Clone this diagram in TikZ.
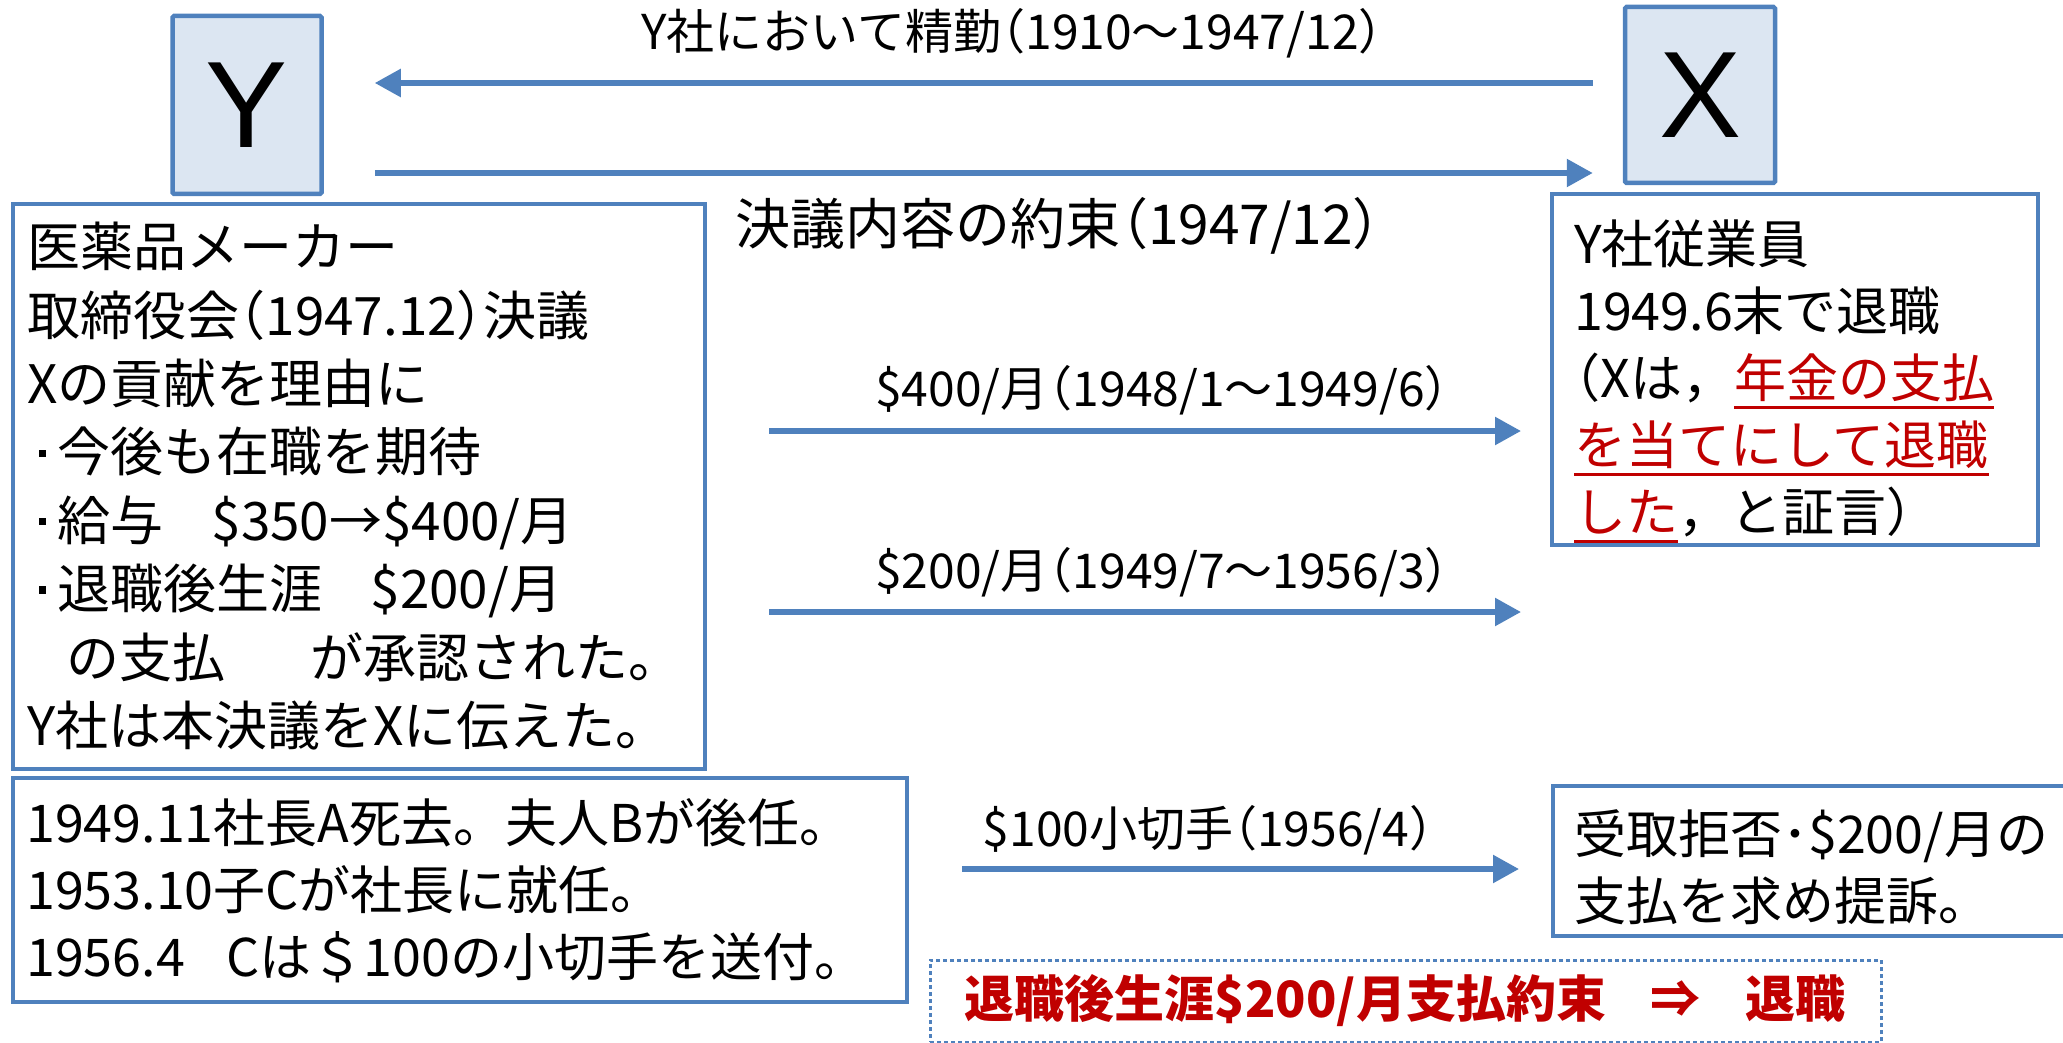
\documentclass[tikz,border=0pt]{standalone}
\usepackage{fontspec}
\setmainfont{Noto Sans CJK JP}
\newfontfamily\haltfont[RawFeature=+halt]{Noto Sans CJK JP}
\newfontfamily\letterfont{Liberation Sans}
\usetikzlibrary{arrows.meta}
\definecolor{bblue}{HTML}{4F81BD}
\definecolor{lblue}{HTML}{DCE6F2}
\definecolor{dred}{HTML}{C00000}
\newlength{\ulwd}
\newcommand{\sqbul}{\makebox[0.58em][c]{\raisebox{0.28em}{\rule{0.14em}{0.14em}}}}
\newcommand{\redul}[1]{\settowidth{\ulwd}{#1}\textcolor{dred}{\rlap{\rule[-11pt]{\ulwd}{3pt}}#1}}
\newcommand{\hp}[1]{{\haltfont #1}}
\tikzset{
  ent/.style={draw=bblue, fill=lblue, line width=4.5pt, rounded corners=1.5pt, inner sep=0pt,
    font=\letterfont\fontsize{123}{123}\selectfont},
  tbox/.style={draw=bblue, line width=4pt, inner sep=0pt, anchor=north west},
  txt/.style={inner sep=0pt, align=left, anchor=north west, font=\fontsize{52}{67}\selectfont},
  arr/.style={draw=bblue, line width=5.5pt, -{Triangle[length=26pt,width=27pt]}},
  lbl/.style={inner sep=0pt, font=\haltfont\fontsize{48}{48}\selectfont},
}
\begin{document}
\begin{tikzpicture}[x=1pt,y=-1pt]
\useasboundingbox (0,0) rectangle (2063,1043);
% entity boxes
\node[ent, minimum width=149pt, minimum height=178pt] (Y) at (247,105) {Y};
\node[ent, minimum width=150pt, minimum height=176pt] (X) at (1700,95) {X};
% text boxes
\node[tbox, minimum width=692pt, minimum height=565pt] (L) at (11,202) {};
\node[tbox, minimum width=486pt, minimum height=351pt] (R) at (1550,192) {};
\node[tbox, minimum width=894pt, minimum height=224pt] (BL) at (11,776) {};
\node[tbox, minimum width=524pt, minimum height=150pt] (BR) at (1551,784) {};
% texts
\node[txt, font=\fontsize{53}{68.4}\selectfont] (Lt) at (27,222) {医薬品メーカー\\
取締役会\hp{（}1947.12\hp{）}決議\\
Xの貢献を理由に\\
\sqbul 今後も在職を期待\\
\sqbul 給与\hspace{0.9em}\$350→\$400/月\\
\sqbul 退職後生涯\hspace{0.9em}\$200/月\\
\hspace*{0.75em}の支払\hspace{1.6em}が承認された。\\
Y社は本決議をXに伝えた。};
\node[txt] (Rt) at (1574,220) {Y社従業員\\
1949.6末で退職\\
\hp{（}Xは，\redul{年金の支払}\\
\redul{を当てにして退職}\\
\redul{した}，と証言）};
\node[txt] (BLt) at (26,798) {1949.11社長A死去。夫人Bが後任。\\
1953.10子Cが社長に就任。\\
1956.4\hspace{0.8em}Cは＄100の小切手を送付。};
\node[txt] (BRt) at (1574,809) {受取拒否･\$200/月の\\
支払を求め提訴。};
% arrows
\draw[arr, shorten <=30pt, shorten >=51pt] (X.west |- 0,83) -- (Y.east |- 0,83);
\draw[arr, shorten <=51pt, shorten >=30pt] (Y.east |- 0,173) -- (X.west |- 0,173);
\draw[arr, shorten <=62pt, shorten >=29pt] (L.east |- 0,431) -- (R.west |- 0,431);
\draw[arr, shorten <=62pt, shorten >=29pt] (L.east |- 0,612) -- (R.west |- 0,612);
\draw[arr, shorten <=53pt, shorten >=32pt] (BL.east |- 0,869) -- (BR.west |- 0,869);
% labels
\node[lbl] (l1) at (1012,33) {Y社において精勤（1910～1947/12）};
\node[lbl, font=\haltfont\fontsize{55}{55}\selectfont] (l2) at (1058,226) {決議内容の約束（1947/12）};
\node[lbl] (l3) at (1162,390) {\$400/月（1948/1～1949/6）};
\node[lbl] (l4) at (1162,572) {\$200/月（1949/7～1956/3）};
\node[lbl] (l5) at (1208,830) {\$100小切手（1956/4）};
% conclusion
\node[draw=bblue, line width=3pt, dash pattern=on 4pt off 3pt, inner sep=0pt,
  minimum width=951pt, minimum height=82pt, font=\fontsize{50}{50}\selectfont\bfseries, text=dred]
  (C) at (1405.5,1001) {退職後生涯\$200/月支払約束\hspace{0.9em}⇒\hspace{0.9em}退職};
\end{tikzpicture}
\end{document}
